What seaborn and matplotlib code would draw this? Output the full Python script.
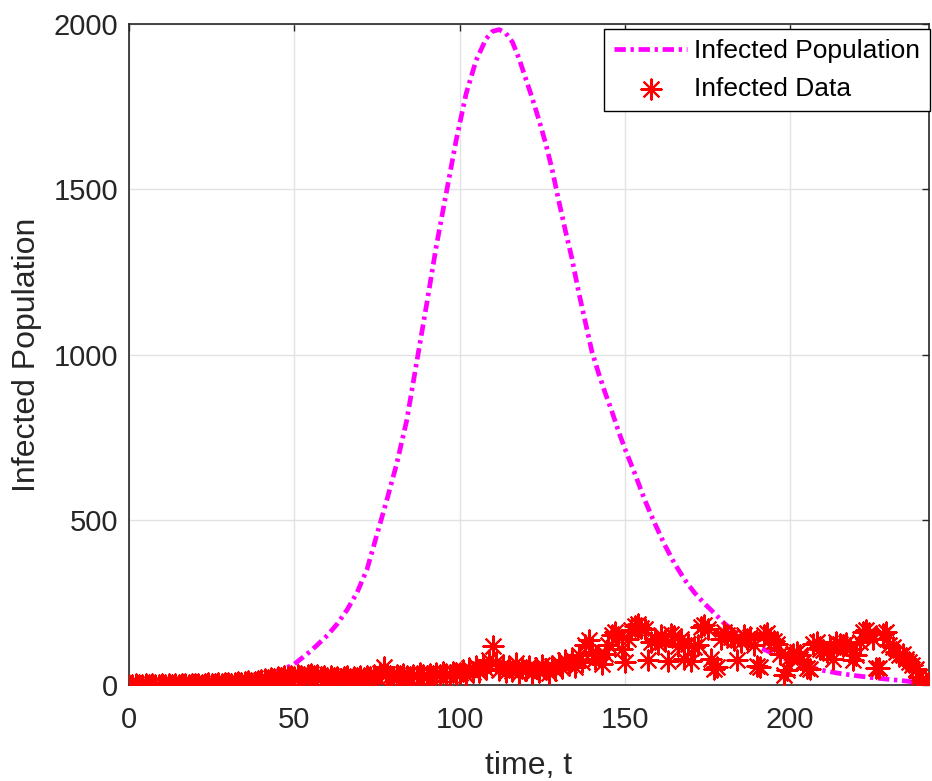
import matplotlib
matplotlib.use("Agg")
import matplotlib.pyplot as plt
import seaborn as sns

# ---- model curve ----
t_model = [0, 10, 20, 30, 35, 40, 45, 50, 55, 60, 63, 66, 69, 72, 75, 78, 81, 84, 87,
           90, 93, 96, 99, 102, 105, 108, 110, 112, 114, 116, 118, 120, 122, 124,
           126, 128, 130, 132, 134, 136, 138, 140, 142, 144, 146, 148, 150, 153,
           156, 159, 162, 165, 168, 171, 174, 177, 180, 184, 188, 192, 196, 200,
           205, 210, 215, 220, 225, 230, 235, 240, 242]
infected_model = [1, 2, 4, 9, 14, 24, 40, 63, 103, 150, 185, 228, 280, 350, 455, 560,
                  670, 800, 975, 1150, 1330, 1490, 1650, 1790, 1890, 1955, 1978, 1983,
                  1972, 1945, 1895, 1835, 1775, 1710, 1640, 1560, 1465, 1375, 1290,
                  1190, 1100, 1010, 945, 885, 830, 770, 715, 640, 560, 490, 425, 368,
                  320, 280, 247, 218, 187, 155, 130, 108, 90, 73, 56, 44, 35, 28, 22,
                  17, 12, 6, 3]

# ---- daily data ----
infected_data = [
    1, 0, 2, 1, 0, 3, 1, 2, 0, 1,
    2, 1, 3, 0, 2, 1, 4, 2, 1, 3,
    2, 4, 1, 3, 5, 2, 4, 6, 3, 5,
    7, 4, 6, 9, 5, 8, 11, 7, 10, 13,
    14, 18, 16, 21, 19, 24, 20, 26, 23, 28,
    25, 30, 27, 22, 29, 33, 26, 31, 24, 28,
    22, 26, 20, 24, 18, 23, 27, 19, 25, 21,
    26, 20, 28, 23, 30, 25, 35, 55, 32, 27,
    24, 30, 26, 33, 28, 22, 31, 27, 35, 29,
    25, 33, 28, 36, 30, 40, 34, 29, 38, 32,
    36, 45, 30, 52, 40, 58, 38, 62, 48, 75,
    118, 70, 45, 60, 38, 55, 42, 66, 35, 50,
    44, 58, 36, 52, 40, 62, 48, 35, 56, 45,
    68, 50, 75, 60, 80, 55, 92, 70, 120, 135,
    100, 80, 90, 65, 95, 120, 150, 160, 145, 110,
    70, 140, 165, 178, 185, 172, 168, 75, 130, 140,
    125, 150, 135, 72, 155, 148, 118, 140, 78, 125,
    72, 115, 120, 175, 182, 170, 78, 48, 55, 140,
    160, 150, 145, 135, 75, 130, 150, 140, 145, 120,
    58, 55, 150, 158, 140, 132, 125, 95, 30, 45,
    85, 95, 100, 90, 70, 50, 48, 125, 130, 110,
    105, 100, 115, 78, 130, 125, 120, 128, 110, 75,
    90, 130, 160, 165, 158, 140, 52, 50, 155, 160,
    120, 115, 100, 90, 95, 78, 70, 60, 48, 25,
    15, 5,
]
t_data = list(range(len(infected_data)))

x_ticks = [0, 50, 100, 150, 200]
y_ticks = [0, 500, 1000, 1500, 2000]

sns.set_style("white")
plt.rcParams['font.family'] = ['Liberation Sans', 'DejaVu Sans']

W, H = 932, 781
fig = plt.figure(figsize=(W / 100, H / 100), dpi=100)
ax = fig.add_axes([129 / W, (H - 685) / H, (929 - 129) / W, (685 - 24) / H])

ink = '#262626'

sns.lineplot(x=t_model, y=infected_model, ax=ax, color='#FF00FF', lw=3.4,
             label='Infected Population', zorder=2, sort=False)
ln = ax.lines[-1]
ln.set_linestyle((0, (2.4, 1.0, 0.7, 1.0)))
ln.set_dash_capstyle('butt')

sns.scatterplot(x=t_data, y=infected_data, ax=ax, marker=(8, 2, 0), s=210,
                color='red', edgecolor='red', linewidth=1.5,
                label='Infected Data', zorder=3)

ax.set_xlim(0, 242)
ax.set_ylim(0, 2000)
ax.set_xticks(x_ticks)
ax.set_yticks(y_ticks)
ax.grid(True, color='#e2e2e2', lw=1.0)
ax.set_axisbelow(True)
for s in ax.spines.values():
    s.set_color(ink)
    s.set_linewidth(1.2)
    s.set_visible(True)
ax.tick_params(direction='in', top=True, right=True, length=5, width=1,
               colors=ink, labelsize=21)
ax.tick_params(axis='x', pad=15)
ax.tick_params(axis='y', pad=8)

ax.set_xlabel('time, t', fontsize=23, color=ink, labelpad=12)
ax.set_ylabel('Infected Population', fontsize=23, color=ink, labelpad=8)

leg = ax.legend(loc='upper right', bbox_to_anchor=(1.003, 0.994), borderaxespad=0.05,
                fontsize=19, frameon=True, fancybox=False, edgecolor='black',
                framealpha=1, handlelength=2.8, handletextpad=0.25,
                labelspacing=0.5, borderpad=0.38, scatterpoints=1)
leg.get_frame().set_linewidth(1.0)
for txt in leg.get_texts():
    txt.set_color('black')

fig.savefig('out.png', dpi=100)
